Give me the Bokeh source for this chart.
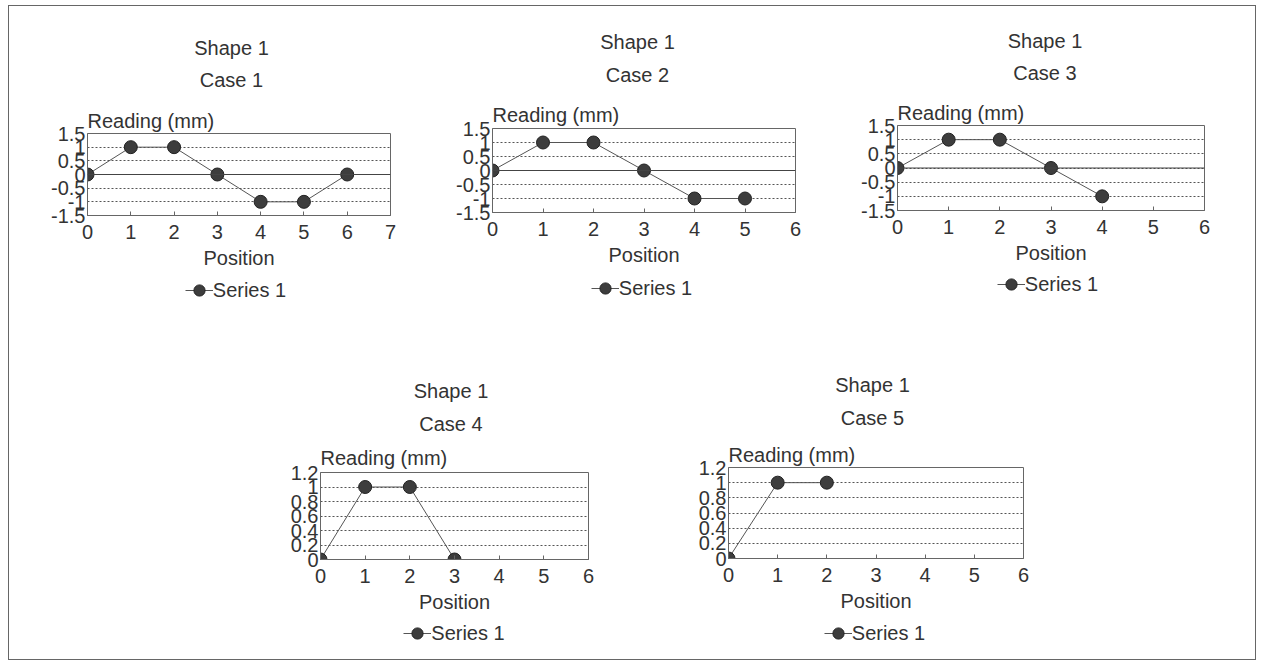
from bokeh.plotting import figure
from bokeh.models import Range1d, FixedTicker, Title, Legend, LegendItem, Span, Spacer
from bokeh.layouts import row, column
from bokeh.embed import file_html
from bokeh.resources import INLINE

# ---------------- data ----------------
shape_name = "Shape 1"
case_names = ["Case 1", "Case 2", "Case 3", "Case 4", "Case 5"]
y_title = "Reading (mm)"
x_title = "Position"
series_name = "Series 1"

pos_1 = [0, 1, 2, 3, 4, 5, 6]
read_1 = [0, 1, 1, 0, -1, -1, 0]
pos_2 = [0, 1, 2, 3, 4, 5]
read_2 = [0, 1, 1, 0, -1, -1]
pos_3 = [0, 1, 2, 3, 4]
read_3 = [0, 1, 1, 0, -1]
pos_4 = [0, 1, 2, 3]
read_4 = [0, 1, 1, 0]
pos_5 = [0, 1, 2]
read_5 = [0, 1, 1]

x_ticks_7 = [0, 1, 2, 3, 4, 5, 6, 7]
x_ticks_6 = [0, 1, 2, 3, 4, 5, 6]
y_ticks_a = [-1.5, -1, -0.5, 0, 0.5, 1, 1.5]
y_labels_a = ["-1.5", "-1", "-0.5", "0", "0.5", "1", "1.5"]
y_ticks_b = [0, 0.2, 0.4, 0.6, 0.8, 1.0, 1.2]
y_labels_b = ["0", "0.2", "0.4", "0.6", "0.8", "1", "1.2"]

# ---------------- style ----------------
FONT = "Liberation Sans"
FS = "20px"
TXT = "#333333"
MARK = "#3d3d3d"
LEG_H = 30
SHAPE_W = 74.5   # approx. rendered width of "Shape 1" at 20px
CASE_W = 63.4    # approx. rendered width of "Case n" at 20px
LEG_W = 101.4    # approx. legend width (glyph + label)


def title(text, align, standoff, size=FS, offset=0):
    return Title(text=text, align=align, text_font=FONT, text_font_size=size,
                 text_font_style="normal", text_color=TXT,
                 standoff=standoff, offset=offset)


def make_chart(pos, read, case, x_ticks, y_ticks, y_labels,
               w, bl, br, bt, fh, bb, zero_line, stand, dx, ldx):
    s_read, s_gap, s_shape = stand
    fw = w - bl - br
    p = figure(title=None, width=w, height=bt + fh + bb,
               min_border_left=bl, min_border_right=br,
               min_border_top=bt, min_border_bottom=bb,
               x_range=Range1d(x_ticks[0], x_ticks[-1]),
               y_range=Range1d(y_ticks[0], y_ticks[-1]),
               output_backend="svg", toolbar_location=None,
               background_fill_color="white", border_fill_color="white")
    p.outline_line_color = "#666666"
    p.outline_line_width = 1

    p.xaxis.ticker = FixedTicker(ticks=x_ticks)
    p.yaxis.ticker = FixedTicker(ticks=y_ticks)
    p.yaxis.major_label_overrides = {t: l for t, l in zip(y_ticks, y_labels)}
    for ax in (p.xaxis, p.yaxis):
        ax.major_label_text_font = FONT
        ax.major_label_text_font_size = FS
        ax.major_label_text_color = TXT
        ax.axis_line_color = "#666666"
        ax.minor_tick_line_color = None
        ax.major_tick_line_color = "#666666"
    p.xaxis.major_tick_in = 4
    p.xaxis.major_tick_out = 0
    p.xaxis.major_label_standoff = 9
    p.yaxis.major_tick_in = 0
    p.yaxis.major_tick_out = 0
    p.yaxis.major_label_standoff = 2
    p.xaxis.axis_label = x_title
    p.xaxis.axis_label_text_font = FONT
    p.xaxis.axis_label_text_font_size = FS
    p.xaxis.axis_label_text_font_style = "normal"
    p.xaxis.axis_label_text_color = TXT
    p.xaxis.axis_label_standoff = 5

    p.xgrid.grid_line_color = None
    p.ygrid.grid_line_color = "#555555"
    p.ygrid.grid_line_dash = "2 2"
    p.ygrid.grid_line_width = 1

    if zero_line:
        p.add_layout(Span(location=0, dimension="width",
                          line_color="#444444", line_width=1))

    p.line(pos, read, line_color="#555555", line_width=1)
    p.scatter(pos, read, size=13, fill_color=MARK, line_color="#222222",
              line_width=1)

    # titles stacked upward from the frame
    p.add_layout(title(y_title, "left", s_read), "above")
    p.add_layout(title(" ", "left", s_gap, size="4px"), "above")
    p.add_layout(title(case, "left", 0, offset=fw / 2 + dx - CASE_W / 2), "above")
    p.add_layout(title(shape_name, "left", s_shape,
                       offset=fw / 2 + dx - SHAPE_W / 2), "above")

    # legend strip below the chart, frame aligned with the chart frame
    lg = figure(title=None, width=w, height=LEG_H,
                min_border_left=bl, min_border_right=br,
                min_border_top=0, min_border_bottom=0,
                x_range=Range1d(-30, -20), y_range=Range1d(-30, -20),
                x_axis_type=None, y_axis_type=None,
                output_backend="svg", toolbar_location=None,
                background_fill_color="white", border_fill_color="white")
    lg.outline_line_color = None
    ln = lg.line(pos, read, line_color="#555555", line_width=1)
    sc = lg.scatter(pos, read, size=13, fill_color=MARK, line_color="#222222",
                    line_width=1)
    legend = Legend(items=[LegendItem(label=series_name, renderers=[ln, sc])],
                    location=(fw / 2 - LEG_W / 2 + ldx, 1),
                    orientation="horizontal",
                    label_text_font=FONT, label_text_font_size=FS,
                    label_text_color=TXT, background_fill_alpha=0,
                    border_line_alpha=0, padding=0, margin=0,
                    glyph_width=28, glyph_height=28, label_standoff=0)
    lg.add_layout(legend)
    return column(p, lg)


c1 = make_chart(pos_1, read_1, case_names[0], x_ticks_7, y_ticks_a, y_labels_a,
                431, 78, 50, 127, 82, 60, True, (3, 9.4, 14.5), -7.5, -3)
c2 = make_chart(pos_2, read_2, case_names[1], x_ticks_6, y_ticks_a, y_labels_a,
                410, 52, 55, 122, 84, 61, True, (5, 7.4, 16.5), -6.5, -2)
c3 = make_chart(pos_3, read_3, case_names[2], x_ticks_6, y_ticks_a, y_labels_a,
                405, 47, 51, 119, 85, 59, True, (3, 8.4, 14.5), -6, -3)
c4 = make_chart(pos_4, read_4, case_names[3], x_ticks_6, y_ticks_b, y_labels_b,
                432, 112, 52, 152, 87, 59, False, (7, 0, 16.5), -3.5, 0)
c5 = make_chart(pos_5, read_5, case_names[4], x_ticks_6, y_ticks_b, y_labels_b,
                460, 88, 77, 147, 91, 60, False, (3, 5.4, 16.5), -3.5, -1)

row1 = row(c1, c2, c3)
row2 = row(Spacer(width=199, height=328), c4, c5)
root = column(row1, Spacer(width=10, height=15), row2, Spacer(width=10, height=11),
              styles={"border": "1px solid #666666",
                      "margin-left": "8px", "margin-top": "5px",
                      "background-color": "white"})

open("out.html", "w").write(file_html(root, INLINE))
